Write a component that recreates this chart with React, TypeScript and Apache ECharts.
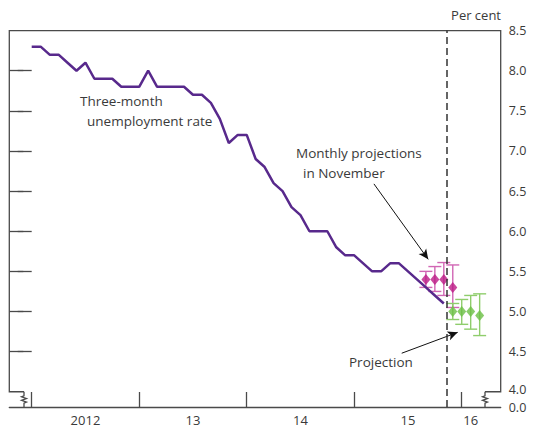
import React, { useEffect, useRef } from "react";
import * as echarts from "echarts";

// ---- data (x = months since January 2012) ----
const unemploymentRate = [
  8.3, 8.3, 8.2, 8.2, 8.1, 8.0, 8.1, 7.9, 7.9, 7.9, 7.8, 7.8,
  7.8, 8.0, 7.8, 7.8, 7.8, 7.8, 7.7, 7.7, 7.6, 7.4, 7.1, 7.2,
  7.2, 6.9, 6.8, 6.6, 6.5, 6.3, 6.2, 6.0, 6.0, 6.0, 5.8, 5.7,
  5.7, 5.6, 5.5, 5.5, 5.6, 5.6, 5.5, 5.4, 5.3, 5.2, 5.1,
];

const novemberMonths = [44, 45, 46, 47];
const novemberCentral = [5.4, 5.4, 5.4, 5.3];
const novemberLow = [5.3, 5.25, 5.2, 5.05];
const novemberHigh = [5.5, 5.56, 5.61, 5.58];

const projectionMonths = [47, 48, 49, 50];
const projectionCentral = [5.0, 5.0, 5.0, 4.95];
const projectionLow = [4.9, 4.84, 4.78, 4.7];
const projectionHigh = [5.1, 5.15, 5.2, 5.22];

const yearTickMonths = [0, 12, 24, 36, 48];
const yearLabelMonths = [6, 18, 30, 42, 49];
const yearLabels = ["2012", "13", "14", "15", "16"];

const yTickValues = [4.5, 5.0, 5.5, 6.0, 6.5, 7.0, 7.5, 8.0];
// the two labels around the axis break are nudged apart a little
const yLabelValues = [3.81, 4.03, 4.5, 5.0, 5.5, 6.0, 6.5, 7.0, 7.5, 8.0, 8.5];
const yLabelTexts = ["0.0", "4.0", "4.5", "5.0", "5.5", "6.0", "6.5", "7.0", "7.5", "8.0", "8.5"];

const projectionDateMonth = 46.3;

const X_MIN = -2.5;
const X_MAX = 52.35;
const Y_MIN = 3.81;
const Y_MAX = 8.5;
const Y_BREAK = 4.0;

// annotation arrows (data coordinates)
const arrowNovember = [[38.2, 6.59], [44.26, 5.65]];
const arrowProjection = [[41.3, 4.48], [47.55, 4.74]];

const PURPLE = "#58298c";
const MAGENTA = "#bb1a86";
const MAGENTA_BAR = "#d166b4";
const GREEN = "#6cbf45";
const GREEN_BAR = "#8fcd6c";
const FRAME = "#4a4a4a";
const TEXT = "#3a3a3a";
const FONT = "'Open Sans', 'Noto Sans', sans-serif";

function errorBarSeries(months: number[], low: number[], high: number[], color: string) {
  return {
    type: "custom",
    silent: true,
    data: months.map((m, i) => [m, low[i], high[i]]),
    encode: { x: 0, y: [1, 2] },
    renderItem: (params: any, api: any) => {
      const x = api.value(0);
      const pLo = api.coord([x, api.value(1)]);
      const pHi = api.coord([x, api.value(2)]);
      const hw = 6.5;
      const style = { stroke: color, lineWidth: 1.4 };
      return {
        type: "group",
        children: [
          { type: "line", shape: { x1: pLo[0], y1: pLo[1], x2: pHi[0], y2: pHi[1] }, style },
          { type: "line", shape: { x1: pLo[0] - hw, y1: pLo[1], x2: pLo[0] + hw, y2: pLo[1] }, style },
          { type: "line", shape: { x1: pHi[0] - hw, y1: pHi[1], x2: pHi[0] + hw, y2: pHi[1] }, style },
        ],
      };
    },
  };
}

export default function App() {
  const ref = useRef<HTMLDivElement>(null);

  useEffect(() => {
    if (!ref.current) return;
    const chart = echarts.init(ref.current, null, { renderer: "svg" });

    const frameSeries = {
      type: "custom",
      silent: true,
      z: 1,
      data: [[0, Y_BREAK]],
      renderItem: (params: any, api: any) => {
        const cs = params.coordSys;
        const left = cs.x;
        const right = cs.x + cs.width;
        const top = cs.y;
        const bottom = cs.y + cs.height;
        const yb = api.coord([0, Y_BREAK])[1];
        const zig = (x: number) => [
          [x, yb], [x, yb + 4], [x - 2.5, yb + 5], [x + 2.5, yb + 6.8],
          [x - 2.5, yb + 8.6], [x + 2.5, yb + 10.4], [x, yb + 11.5], [x, bottom],
        ];
        const style = { stroke: FRAME, lineWidth: 1.3, fill: "none" };
        return {
          type: "group",
          children: [
            {
              type: "polyline",
              shape: { points: [[left + 14.7, yb], [left, yb], [left, top], [right, top], [right, yb], [right - 15.7, yb]] },
              style,
            },
            { type: "polyline", shape: { points: zig(left + 14.7) }, style },
            { type: "polyline", shape: { points: zig(right - 15.7) }, style },
          ],
        };
      },
    };

    const option: any = {
      animation: false,
      grid: {
        left: 9.3,
        right: 32.3,
        top: 30.6,
        bottom: 21,
        containLabel: false,
        outerBoundsMode: "none",
      },
      xAxis: {
        type: "value",
        min: X_MIN,
        max: X_MAX,
        splitLine: { show: false },
        axisLine: { show: true, onZero: false, lineStyle: { color: FRAME, width: 1.3 } },
        axisTick: {
          show: true,
          inside: true,
          length: 15,
          customValues: yearTickMonths,
          lineStyle: { color: FRAME, width: 1.3 },
        },
        axisLabel: {
          customValues: yearLabelMonths,
          formatter: (v: number) => yearLabels[yearLabelMonths.indexOf(v)] ?? "",
          color: TEXT,
          fontFamily: FONT,
          fontSize: 13,
          margin: 6,
        },
      },
      yAxis: [
        {
          type: "value",
          position: "right",
          min: Y_MIN,
          max: Y_MAX,
          splitLine: { show: false },
          axisLine: { show: false },
          axisTick: {
            show: true,
            inside: true,
            length: 14,
            customValues: yTickValues,
            lineStyle: { color: FRAME, width: 1.3 },
          },
          axisLabel: {
            customValues: yLabelValues,
            formatter: (v: number) => {
              const i = yLabelValues.findIndex((t) => Math.abs(t - v) < 1e-6);
              return i >= 0 ? yLabelTexts[i] : "";
            },
            color: TEXT,
            fontFamily: FONT,
            fontSize: 12.5,
            lineHeight: 14,
            margin: 8,
          },
        },
        {
          type: "value",
          position: "left",
          min: Y_MIN,
          max: Y_MAX,
          splitLine: { show: false },
          axisLine: { show: false },
          axisTick: {
            show: true,
            inside: true,
            length: 14,
            customValues: yTickValues,
            lineStyle: { color: FRAME, width: 1.3 },
          },
          axisLabel: { show: false },
        },
      ],
      series: [
        frameSeries,
        errorBarSeries(novemberMonths, novemberLow, novemberHigh, MAGENTA_BAR),
        errorBarSeries(projectionMonths, projectionLow, projectionHigh, GREEN_BAR),
        {
          type: "scatter",
          symbol: "diamond",
          symbolSize: [9, 11],
          itemStyle: { color: MAGENTA },
          data: novemberMonths.map((m, i) => [m, novemberCentral[i]]),
          z: 3,
        },
        {
          type: "scatter",
          symbol: "diamond",
          symbolSize: [9, 11],
          itemStyle: { color: GREEN },
          data: projectionMonths.map((m, i) => [m, projectionCentral[i]]),
          z: 3,
          markLine: {
            silent: true,
            symbol: ["none", "arrow"],
            symbolSize: [7, 10],
            label: { show: false },
            lineStyle: { color: "#111", width: 1, type: "solid" },
            data: [
              [{ coord: arrowNovember[0] }, { coord: arrowNovember[1] }],
              [{ coord: arrowProjection[0] }, { coord: arrowProjection[1] }],
            ],
          },
        },
        {
          type: "line",
          data: unemploymentRate.map((v, i) => [i, v]),
          showSymbol: false,
          lineStyle: { color: PURPLE, width: 2.5 },
          itemStyle: { color: PURPLE },
          z: 4,
          markLine: {
            silent: true,
            symbol: ["none", "none"],
            label: { show: false },
            lineStyle: { color: "#333", width: 1.5, type: [7, 4] },
            data: [{ xAxis: projectionDateMonth }],
          },
        },
      ],
      graphic: [
        { type: "text", right: 32, top: 8, style: { text: "Per cent", fill: TEXT, font: `13px ${FONT}` } },
        { type: "text", left: 80, top: 94, style: { text: "Three-month", fill: TEXT, font: `13.5px ${FONT}` } },
        { type: "text", left: 87, top: 114, style: { text: "unemployment rate", fill: TEXT, font: `13.5px ${FONT}` } },
        { type: "text", left: 296, top: 146, style: { text: "Monthly projections", fill: TEXT, font: `13.5px ${FONT}` } },
        { type: "text", left: 303, top: 166, style: { text: "in November", fill: TEXT, font: `13.5px ${FONT}` } },
        { type: "text", left: 349, top: 355, style: { text: "Projection", fill: TEXT, font: `13.5px ${FONT}` } },
      ],
    };

    chart.setOption(option);
    return () => chart.dispose();
  }, []);

  return (
    <div
      ref={ref}
      style={{ position: "fixed", left: 0, top: 0, width: 533, height: 428, background: "#fff" }}
    />
  );
}
